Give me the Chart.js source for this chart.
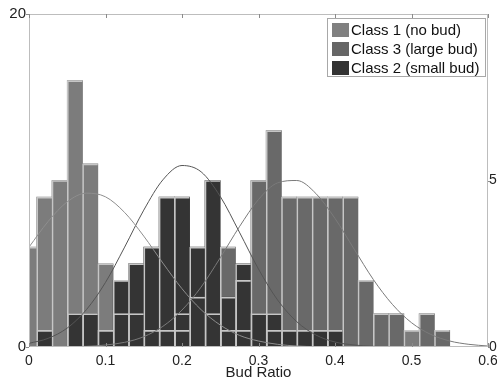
<!DOCTYPE html>
<html>
<head>
<meta charset="utf-8">
<script src="https://cdn.jsdelivr.net/npm/chart.js@4"></script>
<style>
  html, body { margin: 0; padding: 0; background: #fff; }
  #wrap { width: 497px; height: 385px; }
</style>
</head>
<body>
<div id="wrap"><canvas id="budChart" width="497" height="385"></canvas></div>
<script>
// histogram bin centres (bin width 0.02)
const bins = [0, 0.02, 0.04, 0.06, 0.08, 0.10, 0.12, 0.14, 0.16, 0.18, 0.20, 0.22, 0.24, 0.26,
  0.28, 0.30, 0.32, 0.34, 0.36, 0.38, 0.40, 0.42, 0.44, 0.46, 0.48, 0.50, 0.52, 0.54];
const noBud    = [6, 9, 10, 16, 11, 5, 2, 2, 1, 1, 1, 0, 0, 1, 1, 0, 1, 0, 0, 0, 0, 0, 0, 0, 0, 1, 0, 0];
const largeBud = [0, 0, 0, 0, 0, 0, 0, 0, 0, 0, 2, 3, 2, 6, 4, 10, 13, 9, 9, 9, 9, 9, 4, 2, 2, 0, 2, 1];
const smallBud = [0, 1, 0, 2, 2, 1, 4, 5, 6, 9, 9, 6, 10, 3, 5, 2, 2, 1, 1, 1, 1, 0, 0, 0, 0, 0, 0, 0];

// fitted density curves (right axis)
const curveX = [0, 0.025, 0.05, 0.075, 0.1, 0.125, 0.15, 0.175, 0.2, 0.225, 0.25, 0.275, 0.3,
  0.325, 0.35, 0.375, 0.4, 0.425, 0.45, 0.475, 0.5, 0.525, 0.55, 0.575, 0.6];
const noBudFit    = [3.00, 3.77, 4.36, 4.62, 4.51, 4.04, 3.33, 2.52, 1.75, 1.12, 0.66, 0.35, 0.18,
  0.08, 0.03, 0.01, 0, 0, 0, 0, 0, 0, 0, 0, 0];
const smallBudFit = [0.11, 0.26, 0.57, 1.12, 1.94, 3.00, 4.11, 5.02, 5.45, 5.26, 4.52, 3.45, 2.34,
  1.41, 0.76, 0.36, 0.15, 0.06, 0.02, 0.01, 0, 0, 0, 0, 0];
const largeBudFit = [0, 0, 0.01, 0.02, 0.06, 0.14, 0.31, 0.62, 1.11, 1.80, 2.68, 3.61, 4.43,
  4.93, 5.00, 4.61, 3.86, 2.94, 2.03, 1.28, 0.73, 0.38, 0.18, 0.08, 0.03];

const xTicks = [0, 0.1, 0.2, 0.3, 0.4, 0.5, 0.6];
const leftTicks = [0, 20];
const rightTicks = [0, 5];

const FONT = "'Liberation Sans', Arial, sans-serif";
Chart.defaults.font.family = FONT;
Chart.defaults.color = "#222";

function pts(xs, ys) {
  return xs.map((x, i) => ({ x: x, y: ys[i] }));
}

function fillSet(label, values, color, order) {
  return {
    type: "bar",
    label: label,
    data: pts(bins, values),
    backgroundColor: color,
    borderWidth: 0,
    barPercentage: 1,
    categoryPercentage: 1,
    grouped: false,
    clip: 0,
    order: order,
    yAxisID: "y",
  };
}

function edgeSet(values, order) {
  return {
    type: "bar",
    label: "",
    data: pts(bins, values),
    backgroundColor: "rgba(0,0,0,0)",
    borderColor: "#c6c6c6",
    borderWidth: { top: 1, left: 1, right: 0, bottom: 0 },
    borderSkipped: false,
    barPercentage: 1,
    categoryPercentage: 1,
    grouped: false,
    clip: 0,
    order: order,
    yAxisID: "y",
  };
}

function curveSet(values, color) {
  return {
    type: "line",
    label: "",
    data: pts(curveX, values),
    borderColor: color,
    borderWidth: 1,
    pointRadius: 0,
    cubicInterpolationMode: "monotone",
    fill: false,
    clip: 0,
    order: 0,
    yAxisID: "y2",
  };
}

// axes box and inward ticks like the original
const frame = {
  id: "frame",
  afterDatasetsDraw(chart) {
    const { ctx, chartArea: a, scales } = chart;
    ctx.save();
    ctx.strokeStyle = "#bdbdbd";
    ctx.lineWidth = 1;
    ctx.strokeRect(Math.round(a.left) + 0.5, Math.round(a.top) + 0.5,
      Math.round(a.right - a.left) - 1, Math.round(a.bottom - a.top) - 1);
    ctx.strokeStyle = "#8a8a8a";
    ctx.beginPath();
    xTicks.forEach((v) => {
      const px = Math.round(scales.x.getPixelForValue(v)) + 0.5;
      ctx.moveTo(px, a.top);
      ctx.lineTo(px, a.top + 4);
      ctx.moveTo(px, a.bottom);
      ctx.lineTo(px, a.bottom - 4);
    });
    leftTicks.forEach((v) => {
      const py = Math.round(scales.y.getPixelForValue(v)) + 0.5;
      ctx.moveTo(a.left - 3, py);
      ctx.lineTo(a.left, py);
    });
    rightTicks.forEach((v) => {
      const py = Math.round(scales.y2.getPixelForValue(v)) + 0.5;
      ctx.moveTo(a.right, py);
      ctx.lineTo(a.right + 2, py);
    });
    ctx.stroke();
    ctx.restore();
  },
};

const legendBox = {
  id: "legendBox",
  afterDraw(chart) {
    const { ctx, chartArea: a } = chart;
    const items = [
      ["Class 1 (no bud)", "#808080"],
      ["Class 3 (large bud)", "#666666"],
      ["Class 2 (small bud)", "#333333"],
    ];
    const x0 = a.right - 161, y0 = a.top + 4, w = 159, h = 59;
    ctx.save();
    ctx.fillStyle = "#fff";
    ctx.fillRect(x0, y0, w, h);
    ctx.strokeStyle = "#a8a8a8";
    ctx.lineWidth = 1;
    ctx.strokeRect(x0 + 0.5, y0 + 0.5, w - 1, h - 1);
    ctx.font = "15px " + FONT;
    ctx.textBaseline = "middle";
    items.forEach((it, i) => {
      const cy = y0 + 12 + i * 19;
      ctx.fillStyle = it[1];
      ctx.fillRect(x0 + 5, cy - 7, 17, 14);
      ctx.fillStyle = "#111";
      ctx.fillText(it[0], x0 + 24, cy + 1);
    });
    ctx.restore();
  },
};

const noTicks = { display: false, drawTicks: false, tickLength: 0 };

const ctx = document.getElementById("budChart").getContext("2d");
const budChart = new Chart(ctx, {
  type: "bar",
  data: {
    datasets: [
      curveSet(noBudFit, "#8e8e8e"),
      curveSet(largeBudFit, "#7a7a7a"),
      curveSet(smallBudFit, "#555555"),
      edgeSet(smallBud, 1),
      edgeSet(largeBud, 2),
      edgeSet(noBud, 3),
      fillSet("Class 2 (small bud)", smallBud, "#343434", 4),
      fillSet("Class 3 (large bud)", largeBud, "#696969", 5),
      fillSet("Class 1 (no bud)", noBud, "#7c7c7c", 6),
    ],
  },
  options: {
    responsive: false,
    animation: false,
    layout: { padding: { top: 14, left: 0, right: 0, bottom: 0 } },
    plugins: {
      legend: { display: false },
      tooltip: { enabled: false },
    },
    scales: {
      x: {
        type: "linear",
        min: 0,
        max: 0.6,
        offset: false,
        grid: noTicks,
        border: { display: false },
        afterBuildTicks(scale) {
          scale.ticks = xTicks.map((v) => ({ value: v }));
        },
        ticks: {
          font: { size: 14 },
          padding: 6,
          maxRotation: 0,
          autoSkip: false,
        },
        title: {
          display: true,
          text: "Bud Ratio",
          font: { size: 15 },
          padding: { top: 0, bottom: 3 },
        },
        afterFit(scale) {
          scale.height = 38;
          scale.paddingLeft = 0;
          scale.paddingRight = 0;
        },
      },
      y: {
        position: "left",
        min: 0,
        max: 20,
        grid: noTicks,
        border: { display: false },
        afterBuildTicks(scale) {
          scale.ticks = leftTicks.map((v) => ({ value: v }));
        },
        ticks: { font: { size: 15 }, padding: 3 },
        afterFit(scale) {
          scale.width = 29;
        },
      },
      y2: {
        position: "right",
        min: 0,
        max: 10,
        grid: noTicks,
        border: { display: false },
        afterBuildTicks(scale) {
          scale.ticks = rightTicks.map((v) => ({ value: v }));
        },
        ticks: { font: { size: 14 }, padding: 1, autoSkip: false },
        afterFit(scale) {
          scale.width = 9;
        },
      },
    },
  },
  plugins: [frame, legendBox],
});
</script>
</body>
</html>
